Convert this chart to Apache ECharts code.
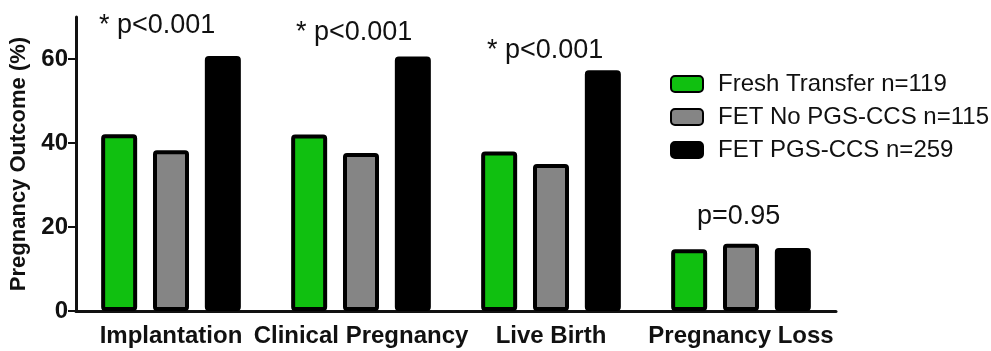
<!DOCTYPE html>
<html><head><meta charset="utf-8">
<script src="https://cdn.jsdelivr.net/npm/echarts@6/dist/echarts.min.js"></script>
<style>html,body{margin:0;padding:0;background:#fff}#c{width:991px;height:351px}</style>
</head><body><div id="c"></div>
<script>
const categories = ['Implantation', 'Clinical Pregnancy', 'Live Birth', 'Pregnancy Loss'];
const freshTransfer = [42.1, 42.0, 38.0, 14.7];
const fetNoPgs = [38.3, 37.6, 35.0, 16.0];
const fetPgs = [60.7, 60.6, 57.3, 15.0];
const seriesNames = ['Fresh Transfer n=119', 'FET No PGS-CCS n=115', 'FET PGS-CCS n=259'];
const yTicks = [0, 20, 40, 60];
const annotations = ['* p<0.001', '* p<0.001', '* p<0.001', 'p=0.95'];

const font = 'Liberation Sans, Arial, sans-serif';
const colors = ['#10c010', '#858585', '#000000'];
const data = [freshTransfer, fetNoPgs, fetPgs];

const chart = echarts.init(document.getElementById('c'), null, {renderer: 'canvas'});
chart.setOption({
  animation: false,
  backgroundColor: '#fff',
  grid: {left: 76, right: 155, top: 17, bottom: 40},
  legend: {
    orient: 'vertical', left: 665, top: 67, itemGap: 9,
    itemWidth: 32, itemHeight: 16, icon: 'roundRect',
    textStyle: {fontFamily: font, fontSize: 24, color: '#111', padding: [0, 0, 0, 10]},
    data: seriesNames
  },
  xAxis: {
    type: 'category', data: categories,
    axisLine: {lineStyle: {color: '#111', width: 3}},
    axisTick: {alignWithLabel: true, length: 6, lineStyle: {color: '#111', width: 2}},
    axisLabel: {interval: 0, fontFamily: font, fontSize: 24, fontWeight: 'bold', color: '#111', margin: 13}
  },
  yAxis: {
    type: 'value', min: 0, max: 70,
    name: 'Pregnancy Outcome (%)', nameLocation: 'middle', nameGap: 45,
    nameTextStyle: {fontFamily: font, fontSize: 22, fontWeight: 'bold', color: '#111'},
    splitLine: {show: false},
    axisLine: {show: true, lineStyle: {color: '#111', width: 3}},
    axisTick: {show: true, length: 8, lineStyle: {color: '#111', width: 2}, customValues: yTicks},
    axisLabel: {fontFamily: font, fontSize: 24, fontWeight: 'bold', color: '#111', margin: 8, customValues: yTicks}
  },
  series: seriesNames.map((n, i) => ({
    name: n, type: 'bar', data: data[i], barWidth: 36, barGap: '44%',
    itemStyle: {color: colors[i], borderColor: '#000', borderWidth: 4, borderRadius: 2}
  })),
  graphic: [
    {type: 'text', left: 99, top: 12, style: {text: annotations[0], fontFamily: font, fontSize: 27, fill: '#111'}},
    {type: 'text', left: 296, top: 19, style: {text: annotations[1], fontFamily: font, fontSize: 27, fill: '#111'}},
    {type: 'text', left: 487, top: 37, style: {text: annotations[2], fontFamily: font, fontSize: 27, fill: '#111'}},
    {type: 'text', left: 697, top: 203, style: {text: annotations[3], fontFamily: font, fontSize: 27, fill: '#111'}}
  ]
});
</script></body></html>
